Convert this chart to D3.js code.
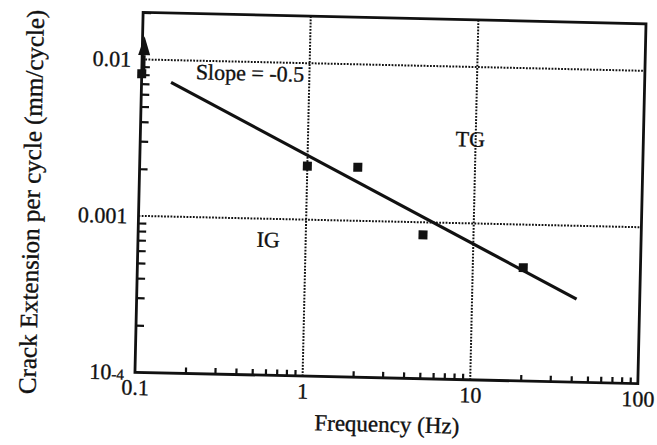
<!DOCTYPE html>
<html>
<head>
<meta charset="utf-8">
<script src="https://cdn.jsdelivr.net/npm/d3@7"></script>
<style>
  body { margin: 0; background: #fff; }
  svg { display: block; }
  text { font-family: 'Liberation Serif', 'Times New Roman', serif; fill: #111; stroke: #111; stroke-width: 0.35; }
</style>
</head>
<body>
<div id="chart"></div>
<script>
// measured points, frequency (Hz) vs crack growth (mm/cycle)
var freq = [0.1, 1, 2, 5, 20];
var rate = [0.0081, 0.0022, 0.0022, 0.00083, 0.00053];

// fitted line ends (slope about -0.5)
var fitFreq = [0.15, 42];
var fitRate = [0.0072, 0.00034];

// arrow on the first point, pointing off the top
var arrowFreq = 0.1;
var arrowTip = 0.0141;

var xDomain = [0.1, 100];
var yDomain = [1e-4, 0.02];
var xTickValues = [0.1, 1, 10, 100];
var xTickLabels = ['0.1', '1', '10', '100'];
var yTickValues = [1e-4, 1e-3, 1e-2];
var yTickLabels = [['10', '-4'], ['0.001'], ['0.01']];
var xGrid = [1, 10];
var yGrid = [0.001, 0.01];

var notes = [
  {text: 'Slope = -0.5', x: 0.21, y: 0.0076},
  {text: 'TG', x: 7.6, y: 0.0031},
  {text: 'IG', x: 0.51, y: 0.00066}
];

var W = 657, H = 445;
var margin = {top: 18, right: 15, bottom: 67, left: 139};
var innerW = W - margin.left - margin.right;
var innerH = H - margin.top - margin.bottom;

var svg = d3.select('#chart').append('svg')
  .attr('width', W)
  .attr('height', H);

// the scan is tilted a little, so turn the whole figure with it
var fig = svg.append('g')
  .attr('transform', 'rotate(1.3,390,197)');

var g = fig.append('g')
  .attr('transform', 'translate(' + margin.left + ',' + margin.top + ')');

var x = d3.scaleLog().domain(xDomain).range([0, innerW]);
var y = d3.scaleLog().domain(yDomain).range([innerH, 0]);

function minors(lo, hi) {
  var out = [];
  for (var p = lo; p < hi; p++) {
    for (var k = 2; k <= 9; k++) out.push(k * Math.pow(10, p));
  }
  return out;
}
var xMinor = minors(-1, 2);
var yMinor = minors(-4, -2).concat([0.02]);

// dotted grid
g.append('g').selectAll('line.gx')
  .data(xGrid).enter().append('line')
    .attr('x1', function(d) { return x(d); })
    .attr('x2', function(d) { return x(d); })
    .attr('y1', 0).attr('y2', innerH)
    .attr('stroke', '#111').attr('stroke-width', 2)
    .attr('stroke-dasharray', '1.8,1.4');

g.append('g').selectAll('line.gy')
  .data(yGrid).enter().append('line')
    .attr('y1', function(d) { return y(d); })
    .attr('y2', function(d) { return y(d); })
    .attr('x1', 0).attr('x2', innerW)
    .attr('stroke', '#111').attr('stroke-width', 2)
    .attr('stroke-dasharray', '1.8,1.4');

// minor ticks pointing inwards
var xMinorAxis = g.append('g')
  .attr('transform', 'translate(0,' + innerH + ')')
  .call(d3.axisBottom(x).tickValues(xMinor).tickSize(-6).tickFormat(''));
var yMinorAxis = g.append('g')
  .call(d3.axisLeft(y).tickValues(yMinor).tickSize(-8).tickFormat(''));
[xMinorAxis, yMinorAxis].forEach(function(a) {
  a.select('.domain').remove();
  a.selectAll('line').attr('stroke', '#111').attr('stroke-width', 2.2);
});

// labels
var xAxis = g.append('g')
  .attr('transform', 'translate(0,' + innerH + ')')
  .call(d3.axisBottom(x).tickValues(xTickValues).tickSize(0).tickPadding(7)
    .tickFormat(function(d, i) { return xTickLabels[i]; }));
xAxis.select('.domain').remove();
xAxis.selectAll('text')
  .attr('font-size', 22)
  .attr('font-family', "'Liberation Serif', serif")
  .attr('fill', '#111');

var yAxis = g.append('g')
  .call(d3.axisLeft(y).tickValues(yTickValues).tickSize(0).tickPadding(11)
    .tickFormat(''));
yAxis.select('.domain').remove();
yAxis.selectAll('.tick text')
  .attr('font-size', 22)
  .attr('font-family', "'Liberation Serif', serif")
  .attr('fill', '#111')
  .each(function(d, i) {
    var t = d3.select(this);
    var parts = yTickLabels[i];
    t.append('tspan').text(parts[0]);
    if (parts[1]) t.append('tspan').attr('font-size', 15).text(parts[1]);
  });

// frame
g.append('rect')
  .attr('width', innerW).attr('height', innerH)
  .attr('fill', 'none').attr('stroke', '#111').attr('stroke-width', 2.8);

// fitted line
var line = d3.line()
  .x(function(d) { return x(d[0]); })
  .y(function(d) { return y(d[1]); });
g.append('path')
  .datum(d3.zip(fitFreq, fitRate))
  .attr('d', line)
  .attr('fill', 'none').attr('stroke', '#111').attr('stroke-width', 3.2);

// points
var sq = 9;
g.append('g').selectAll('rect')
  .data(d3.zip(freq, rate)).enter().append('rect')
    .attr('x', function(d) { return x(d[0]) - sq / 2; })
    .attr('y', function(d) { return y(d[1]) - sq / 2; })
    .attr('width', sq).attr('height', sq)
    .attr('fill', '#111');

// arrow
var ax = x(arrowFreq) + 2, aTip = y(arrowTip), aBase = aTip + 19;
g.append('line')
  .attr('x1', ax).attr('x2', ax)
  .attr('y1', y(rate[0])).attr('y2', aBase)
  .attr('stroke', '#111').attr('stroke-width', 3);
g.append('path')
  .attr('d', 'M' + ax + ',' + aTip + 'L' + (ax + 6) + ',' + aBase + 'L' + (ax - 6) + ',' + aBase + 'Z')
  .attr('fill', '#111');

// notes
g.append('g').selectAll('text')
  .data(notes).enter().append('text')
    .attr('x', function(d) { return x(d.x); })
    .attr('y', function(d) { return y(d.y); })
    .attr('font-size', 22)
    .text(function(d) { return d.text; });

// axis titles
fig.append('text')
  .attr('x', 392).attr('y', 432)
  .attr('text-anchor', 'middle')
  .attr('font-size', 23)
  .text('Frequency (Hz)');

fig.append('text')
  .attr('transform', 'translate(40,210) rotate(-90)')
  .attr('text-anchor', 'middle')
  .attr('font-size', 25)
  .text('Crack Extension per cycle (mm/cycle)');
</script>
</body>
</html>
